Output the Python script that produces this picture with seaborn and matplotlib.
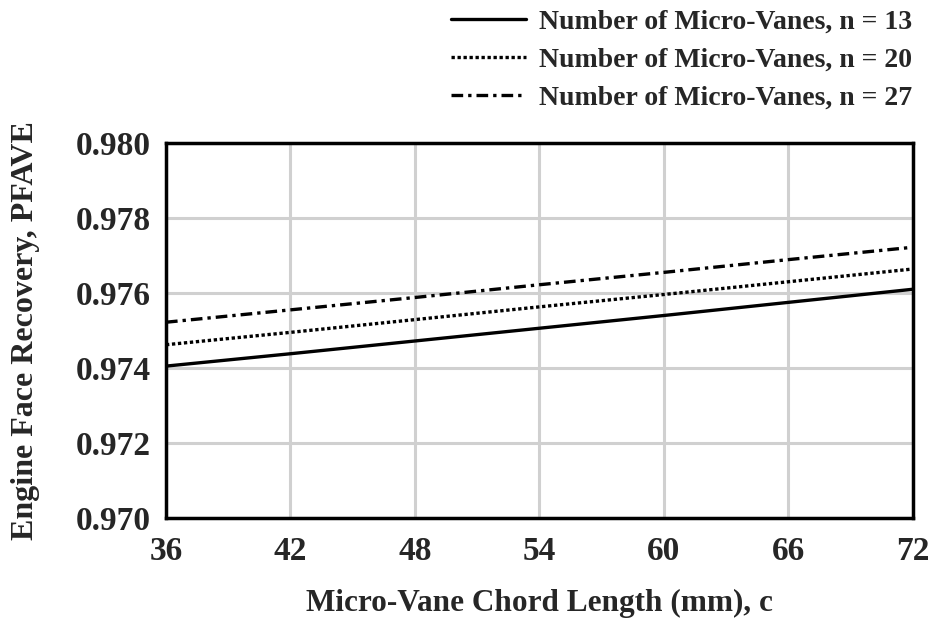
import numpy as np
import pandas as pd
import matplotlib
matplotlib.use("Agg")
import matplotlib.pyplot as plt
import seaborn as sns

chord = [36, 42, 48, 54, 60, 66, 72]
pfave_n13 = [0.97405, 0.97438, 0.97472, 0.97506, 0.97540, 0.97575, 0.97610]
pfave_n20 = [0.97462, 0.97495, 0.97529, 0.97563, 0.97596, 0.97630, 0.97664]
pfave_n27 = [0.97522, 0.97555, 0.97588, 0.97622, 0.97655, 0.97689, 0.97722]
labels = ["Number of Micro-Vanes, n = 13",
          "Number of Micro-Vanes, n = 20",
          "Number of Micro-Vanes, n = 27"]
xticks = [36, 42, 48, 54, 60, 66, 72]
yticks = [0.970, 0.972, 0.974, 0.976, 0.978, 0.980]

sns.set_style("white")
plt.rcParams['font.family'] = ['Liberation Serif', 'DejaVu Serif']
plt.rcParams['font.weight'] = 'bold'

fig = plt.figure(figsize=(9.34, 6.19), dpi=100)
ax = fig.add_axes([0.1777, 0.1632, 0.7998, 0.6058])

styles = ['-', (0, (1, 0.8)), (0, (3.5, 1.5, 1, 1.5))]
for vals, lab, ls in zip([pfave_n13, pfave_n20, pfave_n27], labels, styles):
    df = pd.DataFrame({"c": chord, "p": vals})
    sns.lineplot(data=df, x="c", y="p", ax=ax, color='black', lw=2.4,
                 linestyle=ls, label=lab)

ax.set_xlim(36, 72)
ax.set_ylim(0.970, 0.980)
ax.set_xticks(xticks)
ax.set_yticks(yticks)
ax.set_xticklabels([str(t) for t in xticks])
ax.set_yticklabels([f"{t:.3f}" for t in yticks])
ax.grid(True, color='#d0d0d0', lw=2.2)
ax.set_axisbelow(True)
for s in ax.spines.values():
    s.set_color('black')
    s.set_linewidth(2.5)
ax.tick_params(axis='both', length=0, labelsize=24)
ax.tick_params(axis='y', pad=11)
ax.tick_params(axis='x', pad=13)
for t in ax.get_xticklabels() + ax.get_yticklabels():
    t.set_fontweight('bold')

ax.set_xlabel("Micro-Vane Chord Length (mm), c", fontsize=22.5, fontweight='bold')
ax.set_ylabel("Engine Face Recovery, PFAVE", fontsize=23, fontweight='bold')
ax.xaxis.set_label_coords(0.5, -0.229)
ax.yaxis.set_label_coords(-0.188, 0.5)
ax.xaxis.label.set_va('center')
ax.yaxis.label.set_va('center')

h, l = ax.get_legend_handles_labels()
if ax.get_legend():
    ax.get_legend().remove()
fig.legend(h, l, loc='upper right', bbox_to_anchor=(0.986, 0.999), frameon=False,
           borderpad=0.3, borderaxespad=0,
           prop={'size': 20, 'weight': 'bold'}, handlelength=2.7, handletextpad=0.5,
           labelspacing=0.45)

fig.savefig("out.png", dpi=100)
